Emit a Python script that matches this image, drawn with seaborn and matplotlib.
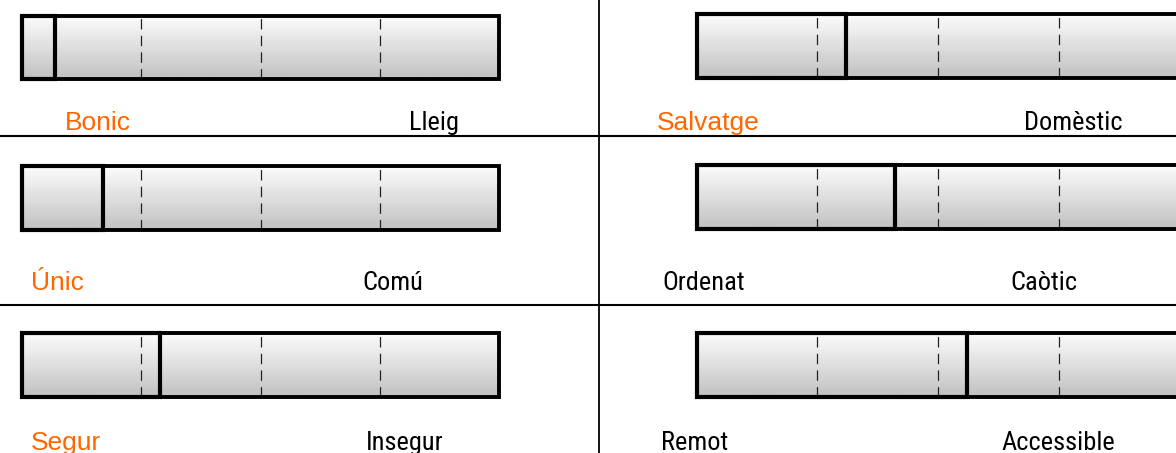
import matplotlib
matplotlib.use("Agg")
import matplotlib.pyplot as plt
import seaborn as sns
import numpy as np
from matplotlib import font_manager as fm
from matplotlib.patches import Rectangle
from matplotlib.lines import Line2D

# ---------------- data ----------------
left_labels = ["Bonic", "Salvatge", "Únic", "Ordenat", "Segur", "Remot"]
right_labels = ["Lleig", "Domèstic", "Comú", "Caòtic", "Insegur", "Accessible"]
values = [7, 31, 17, 41, 29, 56]          # position on a 0-100 scale
highlight = [True, True, True, False, True, False]
quarter_ticks = [25, 50, 75]

# ---------------- style ----------------
sns.set_theme(style="white")
plt.rcParams["font.family"] = ["Liberation Sans", "DejaVu Sans"]
plt.rcParams["lines.scale_dashes"] = False

names = {f.name for f in fm.fontManager.ttflist}
narrow_family = "Roboto Condensed" if "Roboto Condensed" in names else "Liberation Sans"

W, H = 1176, 453
fig = plt.figure(figsize=(W / 100, H / 100), dpi=100)
fig.patch.set_facecolor("white")

# layout (pixels): x, top, width, height of each track
tracks = [
    (21.8, 16.3, 477.6, 62.5),
    (696.6, 13.7, 483.0, 64.0),
    (21.8, 166.3, 477.6, 64.0),
    (696.6, 165.3, 483.0, 64.0),
    (21.8, 333.3, 477.6, 63.4),
    (696.6, 333.3, 483.0, 64.0),
]
left_cx = [98, 708, 57, 704, 66, 695]
right_cx = [434, 1073, 393, 1044, 405, 1058]
baselines = [130, 130, 290, 290, 450, 450]

grad = np.linspace(0.755, 0.985, 64)[:, None]

for i, (x, top, w, h) in enumerate(tracks):
    ax = fig.add_axes([x / W, 1 - (top + h) / H, w / W, h / H])
    sns.barplot(x=[values[i]], y=[0], orient="h", width=1, fill=False,
                color="black", linewidth=3.0, errorbar=None, ax=ax)
    for p in ax.patches:
        p.set_clip_on(False)
        p.set_zorder(4)
        p.set_joinstyle("miter")
        p.set_edgecolor("black")
        p.set_linewidth(3.0)
    ax.imshow(grad, cmap="gray", vmin=0, vmax=1, extent=[0, 100, -0.5, 0.5],
              origin="lower", aspect="auto", zorder=0, interpolation="bilinear")
    ax.vlines(quarter_ticks, -0.5, 0.5, colors="#222222", linewidth=0.9,
              linestyles=[(0, (7.5, 4.5))], zorder=1)
    ax.add_patch(Rectangle((0, 0), 1, 1, transform=ax.transAxes, fill=False,
                           lw=2.8, ec="black", clip_on=False, zorder=3,
                           joinstyle="miter"))
    ax.set_xlim(0, 100)
    ax.set_ylim(-0.5, 0.5)
    ax.axis("off")

    y = 1 - baselines[i] / H
    if highlight[i]:
        fig.text(left_cx[i] / W, y, left_labels[i], ha="center", va="baseline",
                 fontsize=19, color="#FF6600", family=["Liberation Sans", "DejaVu Sans"])
    else:
        fig.text(left_cx[i] / W, y, left_labels[i], ha="center", va="baseline",
                 fontsize=19, color="black", family=[narrow_family, "DejaVu Sans"])
    fig.text(right_cx[i] / W, y, right_labels[i], ha="center", va="baseline",
             fontsize=19, color="black", family=[narrow_family, "DejaVu Sans"])

# panel separators
for yy in (136, 304.5):
    fig.add_artist(Line2D([0, 1], [1 - yy / H] * 2, transform=fig.transFigure,
                          color="black", lw=1.5))
fig.add_artist(Line2D([599 / W] * 2, [0, 1], transform=fig.transFigure,
                      color="black", lw=1.3))

fig.savefig("out.png", dpi=100, facecolor="white")
